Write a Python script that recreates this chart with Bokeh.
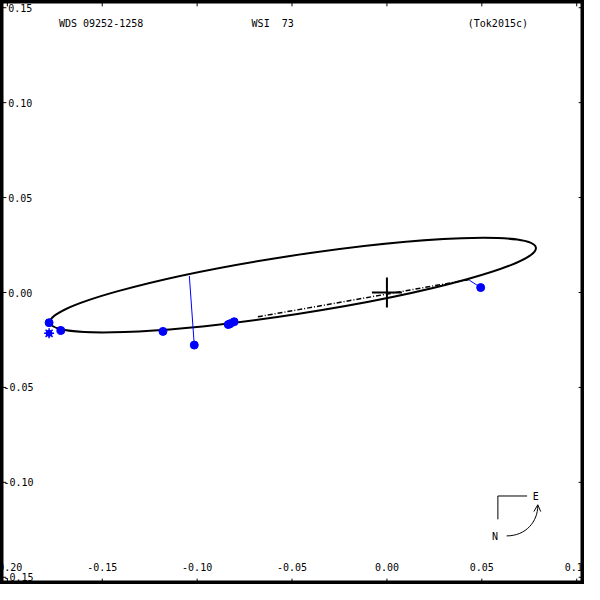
from bokeh.plotting import figure
from bokeh.embed import file_html
from bokeh.resources import INLINE
from bokeh.core.properties import value
from bokeh.models import ColumnDataSource

# ---- data ----
x_ticks = [-0.20, -0.15, -0.10, -0.05, 0.00, 0.05, 0.10]
x_tick_labels = ["-0.20", "-0.15", "-0.10", "-0.05", "0.00", "0.05", "0.10"]
y_ticks = [-0.15, -0.10, -0.05, 0.00, 0.05, 0.10, 0.15]
y_tick_labels = ["-0.15", "-0.10", "-0.05", "0.00", "0.05", "0.10", "0.15"]

# apparent orbit ellipse (center, full axes, position angle in radians)
orbit_cx = [-0.0495]
orbit_cy = [0.0039]
orbit_w = [0.2590]
orbit_h = [0.0308]
orbit_angle = [0.153]

# line of nodes
nodes_x = [-0.0680, 0.0434]
nodes_y = [-0.0128, 0.0068]

# measurements (observed) and their predicted positions
obs_x = [-0.1780, -0.1718, -0.1180, -0.1015, -0.0836, -0.0826, -0.0805, 0.0494]
obs_y = [-0.0159, -0.0200, -0.0205, -0.0277, -0.0169, -0.0164, -0.0154, 0.0026]
pred_x = [-0.1775, -0.1712, -0.1180, -0.1041, -0.0836, -0.0826, -0.0805, 0.0434]
pred_y = [-0.0160, -0.0192, -0.0200, 0.0087, -0.0168, -0.0163, -0.0153, 0.0065]

# interferometric-type measurement (star symbol)
star_x = [-0.1780]
star_y = [-0.0215]

title_left = "WDS 09252-1258"
title_mid = "WSI\u00a0\u00a073"
title_right = "(Tok2015c)"

# ---- figure ----
XMIN, XMAX = -0.2036, 0.1041
YMIN, YMAX = -0.1538, 0.1538
PX = 1950.0  # pixels per data unit in reference

W = H = 584
p = figure(width=W, height=H, x_range=(XMIN, XMAX), y_range=(YMIN, YMAX),
           output_backend="svg", toolbar_location=None, min_border=0,
           background_fill_color="white", border_fill_color="white")
p.axis.visible = False
p.grid.visible = False
p.outline_line_color = "black"
p.outline_line_width = 6

FONT = value("DejaVu Sans Mono")
FS = "10px"

# tick marks
tl = 6.0 / PX
p.segment(x0=[XMIN] * len(y_ticks), y0=y_ticks, x1=[XMIN + tl] * len(y_ticks), y1=y_ticks,
          line_color="black", line_width=1)
p.segment(x0=[XMAX] * len(y_ticks), y0=y_ticks, x1=[XMAX - tl] * len(y_ticks), y1=y_ticks,
          line_color="black", line_width=1)
p.segment(x0=x_ticks, y0=[YMIN] * len(x_ticks), x1=x_ticks, y1=[YMIN + tl] * len(x_ticks),
          line_color="black", line_width=1)
p.segment(x0=x_ticks, y0=[YMAX] * len(x_ticks), x1=x_ticks, y1=[YMAX - tl] * len(x_ticks),
          line_color="black", line_width=1)

# tick labels
p.text(x=x_ticks, y=[YMIN + 18.0 / PX] * len(x_ticks), text=x_tick_labels,
       text_font=FONT, text_font_size=FS, text_align="center", text_baseline="middle",
       text_color="black")
ylx = [XMIN + (3.0 if v < 0 else 8.0) / PX for v in y_ticks]
p.text(x=ylx, y=y_ticks, text=y_tick_labels,
       text_font=FONT, text_font_size=FS, text_align="left", text_baseline="middle",
       text_color="black")

# header texts
ty = YMAX - 24.0 / PX
p.text(x=[-0.1728], y=[ty], text=[title_left], text_font=FONT, text_font_size=FS,
       text_align="left", text_baseline="middle", text_color="black")
p.text(x=[-0.0713], y=[ty], text=[title_mid], text_font=FONT, text_font_size=FS,
       text_align="left", text_baseline="middle", text_color="black")
p.text(x=[0.0426], y=[ty], text=[title_right], text_font=FONT, text_font_size=FS,
       text_align="left", text_baseline="middle", text_color="black")

# orbit
p.ellipse(x=orbit_cx, y=orbit_cy, width=orbit_w, height=orbit_h, angle=orbit_angle,
          fill_color=None, line_color="black", line_width=2)

# line of nodes
p.line(nodes_x, nodes_y, line_color="black", line_width=1.5, line_dash="5 2 1 2")

# primary
p.scatter(x=[0.0], y=[0.0], marker="cross", size=30, line_color="black", line_width=2)

# O-C lines and measurements
src = ColumnDataSource(dict(ox=obs_x, oy=obs_y, px=pred_x, py=pred_y))
p.segment(x0="ox", y0="oy", x1="px", y1="py", source=src, line_color="blue", line_width=1)
p.scatter(x="ox", y="oy", source=src, marker="circle", size=8,
          fill_color="blue", line_color="blue")
p.scatter(x=star_x, y=star_y, marker="circle", size=6, fill_color="blue", line_color="blue")
p.scatter(x=star_x, y=star_y, marker="asterisk", size=10, line_color="blue", line_width=1.5)

# compass (N / E indicator)
def dx(px_):
    return (px_ - 397.0) / PX


def dy(py_):
    return (300.0 - py_) / PX


p.line([dx(511), dx(511), dx(541)], [dy(533), dy(509), dy(509)], line_color="black", line_width=1)
p.text(x=[dx(550)], y=[dy(510)], text=["E"], text_font=FONT, text_font_size=FS,
       text_align="center", text_baseline="middle", text_color="black")
p.text(x=[dx(508)], y=[dy(551)], text=["N"], text_font=FONT, text_font_size=FS,
       text_align="center", text_baseline="middle", text_color="black")
p.bezier(x0=[dx(520)], y0=[dy(550)], x1=[dx(552)], y1=[dy(519)],
         cx0=[dx(540)], cy0=[dy(550)], cx1=[dx(552)], cy1=[dy(535)],
         line_color="black", line_width=1)
p.line([dx(548), dx(552), dx(555)], [dy(525), dy(518), dy(525)], line_color="black", line_width=1)

open("out.html", "w").write(file_html(p, INLINE))
